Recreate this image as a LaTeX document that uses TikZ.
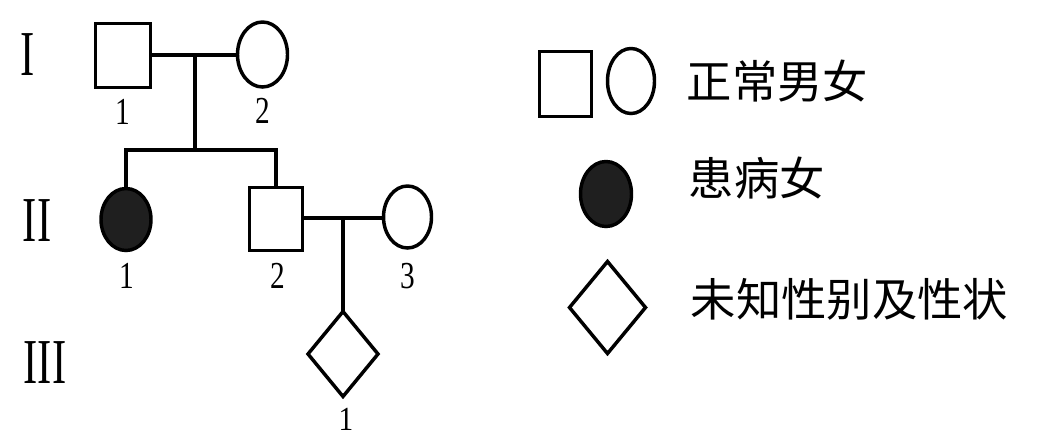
\documentclass[tikz,border=0pt]{standalone}
\usepackage{fontspec}
\usepackage{graphicx}
\setmainfont{Liberation Serif}
\newfontfamily\cjk{Noto Sans CJK SC}
\usetikzlibrary{shapes.geometric}
\newcommand{\tallnum}[1]{\scalebox{1}[1.3]{#1}}
\begin{document}
\begin{tikzpicture}[x=0.75pt,y=-0.75pt,line width=2.6pt,
  male/.style={draw,rectangle,inner sep=0pt,outer sep=0pt},
  female/.style={draw,ellipse,inner sep=0pt,outer sep=0pt},
  unknown/.style={draw,diamond,inner sep=0pt,outer sep=0pt},
  affected/.style={fill=black!88},
  num/.style={font=\fontsize{22}{22}\selectfont,inner sep=0pt},
  gen/.style={font=\fontsize{32}{32}\selectfont,inner sep=0pt},
  legendtext/.style={font=\cjk\fontsize{34}{34}\selectfont,anchor=west,inner sep=0pt}]
\path[use as bounding box] (0,0) rectangle (1037,436);

% generation labels
\node[gen] (g1) at (28,55) {\scalebox{1}[1.5]{I}};
\node[gen] (g2) at (37,221) {\scalebox{1}[1.5]{II}};
\node[gen] (g3) at (45,363) {\scalebox{1}[1.5]{III}};

% generation I
\node[male,minimum width=41.25pt,minimum height=48pt] (I1) at (123,55.5) {};
\node[female,minimum width=37.5pt,minimum height=48.75pt] (I2) at (262.5,54.5) {};
\node[num] (lI1) at (123,112) {\tallnum{1}};
\node[num] (lI2) at (263,111) {\tallnum{2}};

% generation II
\node[female,affected,minimum width=37.5pt,minimum height=46.5pt] (II1) at (126,219.5) {};
\node[male,minimum width=39.75pt,minimum height=47.25pt] (II2) at (276,219) {};
\node[female,minimum width=36pt,minimum height=46.5pt] (II3) at (407.5,217) {};
\node[num] (lII1) at (127,276) {\tallnum{1}};
\node[num] (lII2) at (278,276) {\tallnum{2}};
\node[num] (lII3) at (408,276) {\tallnum{3}};

% generation III
\node[unknown,minimum width=52.5pt,minimum height=63.75pt] (III1) at (343,354) {};
\node[num] (lIII1) at (346,419) {\scalebox{1}[1.15]{1}};

% connectors
\coordinate (m1) at (195,55);
\coordinate (s1) at (195,150);
\coordinate (m2) at (343,218);
\draw (I1.east |- m1) -- (I2.west |- m1);
\draw (m1) -- (s1);
\draw ([xshift=-1.3pt]II1.north |- s1) -- ([xshift=1.3pt]II2.north |- s1);
\draw (II1.north |- s1) -- (II1.north);
\draw (II2.north |- s1) -- (II2.north);
\draw (II2.east |- m2) -- (II3.west |- m2);
\draw (m2) -- (III1.north);

% legend
\node[male,minimum width=39pt,minimum height=48.75pt] (Lm) at (565.5,84) {};
\node[female,minimum width=35.25pt,minimum height=48.75pt] (Lf) at (631,81) {};
\node[legendtext] (Lt1) at (685,81) {正常男女};
\node[female,affected,minimum width=38.25pt,minimum height=48.75pt] (La) at (606,194) {};
\node[legendtext] (Lt2) at (687,178) {患病女};
\node[unknown,minimum width=57pt,minimum height=69pt] (Lu) at (607.5,307.5) {};
\node[legendtext] (Lt3) at (689,299) {未知性别及性状};
\end{tikzpicture}
\end{document}
